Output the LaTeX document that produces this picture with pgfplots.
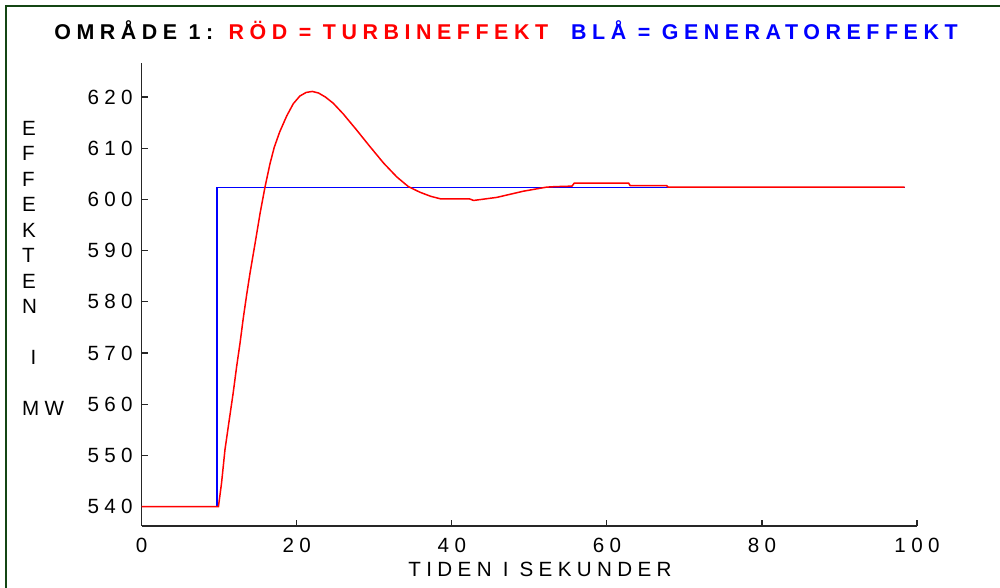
\documentclass[border=0pt]{standalone}
\usepackage{fontspec}
\setmainfont{Liberation Sans}
\newfontfamily\lsfont[LetterSpace=26]{Liberation Sans}
\usepackage{pgfplots}
\pgfplotsset{compat=1.18}
\definecolor{bordergreen}{RGB}{20,70,20}
\newcommand\tf{\lsfont\fontsize{10.3}{12.75}\selectfont}
\begin{document}
\begin{tikzpicture}
\useasboundingbox (0,0) rectangle (500pt,294pt);
\draw[bordergreen, line width=1pt] (3pt,-1pt) -- (3pt,291pt) -- (501pt,291pt);
\begin{axis}[
  at={(70.85pt,31pt)}, anchor=south west,
  scale only axis, width=387.65pt, height=231.35pt,
  xmin=0,xmax=100,ymin=536.2,ymax=626.6,
  axis x line*=bottom, axis y line*=left,
  axis line style={black!85, line width=0.65pt},
  tick align=inside, major tick length=3pt,
  tick style={black!85, line width=0.6pt},
  xtick={0,20,40,60,80,100}, ytick={540,550,...,620},
  /pgf/number format/assume math mode=true,
  ticklabel style={font=\tf},
  xticklabel style={inner sep=0pt, anchor=north, yshift=-5.8pt},
  yticklabel style={inner sep=0pt, anchor=east, xshift=-4.3pt},
  clip=false,
]
\addplot[blue, line width=0.6pt] coordinates {(0,540) (9.7,540) (9.7,602.4) (98.4,602.4)};
\addplot[red, line width=0.75pt] coordinates {
(0,540) (9.9,540) (10.3,544.6) (10.74,551.1) (11.3,557.0) (11.8,562.2)
(12.25,567.4) (12.68,571.9) (13.1,576.8) (13.54,581.4) (13.97,585.6)
(14.6,591.2) (15.27,597.3) (15.9,602.4) (16.55,607.0) (17.1,610.2)
(17.8,613.2) (18.7,616.3) (19.55,618.7) (20.4,620.2) (21.2,620.9) (22.0,621.1)
(22.8,620.8) (23.7,620.0)
(24.7,618.8) (26.0,616.7) (27.7,613.6) (29.4,610.4) (31.2,607.1)
(32.9,604.4) (34.4,602.5) (35.9,601.4) (37.3,600.6) (38.6,600.1) (42.3,600.1)
(42.8,599.8) (45.8,600.4) (49.2,601.6) (52.2,602.4) (53.3,602.5)
(55.5,602.6) (55.8,603.2) (62.8,603.2) (63.0,602.7) (67.7,602.7)
(67.9,602.4) (98.4,602.4)};
\end{axis}
\node[anchor=base, inner sep=0pt, font=\lsfont\fontsize{10.7}{12.75}\selectfont\bfseries] at (253pt,274pt) {OMRÅDE 1: \textcolor{red}{RÖD = TURBINEFFEKT}\ \ \textcolor{blue}{BLÅ = GENERATOREFFEKT}};
\foreach \t [count=\i from 0] in {E,F,F,E,K,T,E,N,{},{\hspace{4.3pt}I},{},MW}
  \node[anchor=base west, inner sep=0pt, font=\tf] at ({10.8pt},{226.25pt-12.75pt*\i}) {\t};
\node[anchor=base, inner sep=0pt, font=\tf] at (270pt,5.65pt) {TIDEN I SEKUNDER};
\end{tikzpicture}
\end{document}
